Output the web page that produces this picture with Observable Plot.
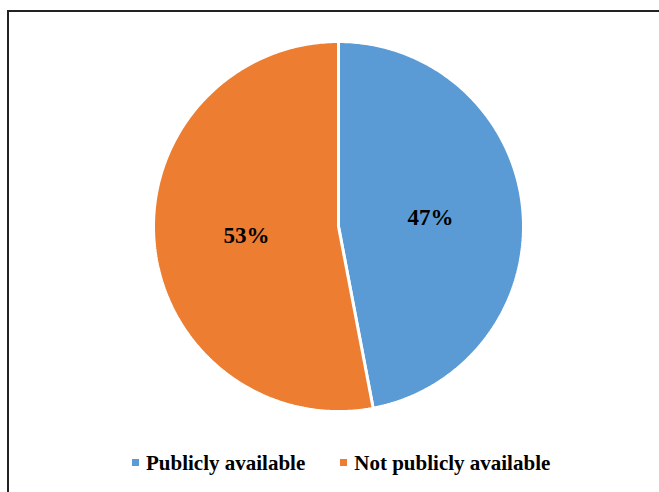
<!DOCTYPE html>
<html>
<head>
<meta charset="utf-8">
<script src="https://cdn.jsdelivr.net/npm/d3@7"></script>
<script src="https://cdn.jsdelivr.net/npm/@observablehq/plot@0.6"></script>
<style>
  html, body { margin: 0; padding: 0; background: #fff; }
  #wrap { position: relative; width: 659px; height: 492px; overflow: hidden; background: #fff; }
  #frame { position: absolute; left: 7px; top: 10px; width: 700px; height: 600px; border: 2px solid #222; box-sizing: border-box; }
  #chart { position: absolute; left: 0; top: 0; }
  #legend { position: absolute; left: 132px; top: 448px; height: 44px; line-height: 30px; font-family: "Liberation Serif", "Times New Roman", serif; font-weight: bold; font-size: 21px; color: #000; white-space: nowrap; }
  .sw { display: inline-block; width: 7px; height: 7px; vertical-align: 4px; margin-right: 7px; }
  .item2 { margin-left: 35px; }
</style>
</head>
<body>
<div id="wrap">
  <div id="frame"></div>
  <div id="chart"></div>
  <div id="legend"></div>
</div>
<script>
const categories = ["Publicly available", "Not publicly available"];
const values = [47, 53];
const labels = ["47%", "53%"];
const colors = ["#5B9BD5", "#ED7D31"];

const arcs = d3.pie().sort(null).value(d => d)(values);

// slice outlines as polygons in unit coordinates (angle 0 at top, clockwise)
const outline = [];
arcs.forEach((a, i) => {
  const steps = 240;
  outline.push({cat: categories[i], x: 0, y: 0});
  for (let k = 0; k <= steps; k++) {
    const t = a.startAngle + (a.endAngle - a.startAngle) * k / steps;
    outline.push({cat: categories[i], x: Math.sin(t), y: Math.cos(t)});
  }
  outline.push({cat: categories[i], x: 0, y: 0});
});

const labelPts = arcs.map((a, i) => {
  const m = (a.startAngle + a.endAngle) / 2;
  return {label: labels[i], x: 0.5 * Math.sin(m), y: 0.5 * Math.cos(m)};
});

const cx = 338, cy = 226, R = 185;

const plot = Plot.plot({
  width: 659,
  height: 448,
  margin: 0,
  style: {background: "transparent"},
  x: {domain: [-1, 1], range: [cx - R, cx + R], axis: null},
  y: {domain: [-1, 1], range: [cy + R, cy - R], axis: null},
  color: {domain: categories, range: colors},
  marks: [
    Plot.line(outline, {x: "x", y: "y", z: "cat", fill: "cat", stroke: "white", strokeWidth: 3, strokeLinejoin: "miter"}),
    Plot.text(labelPts, {x: "x", y: "y", text: "label", fontSize: 23, fontWeight: "bold", fontFamily: "Liberation Serif, Times New Roman, serif", fill: "black"})
  ]
});
document.getElementById("chart").appendChild(plot);

const legend = document.getElementById("legend");
categories.forEach((c, i) => {
  const span = document.createElement("span");
  if (i > 0) span.className = "item2";
  const sw = document.createElement("span");
  sw.className = "sw";
  sw.style.background = colors[i];
  span.appendChild(sw);
  span.appendChild(document.createTextNode(c));
  legend.appendChild(span);
});
</script>
</body>
</html>
